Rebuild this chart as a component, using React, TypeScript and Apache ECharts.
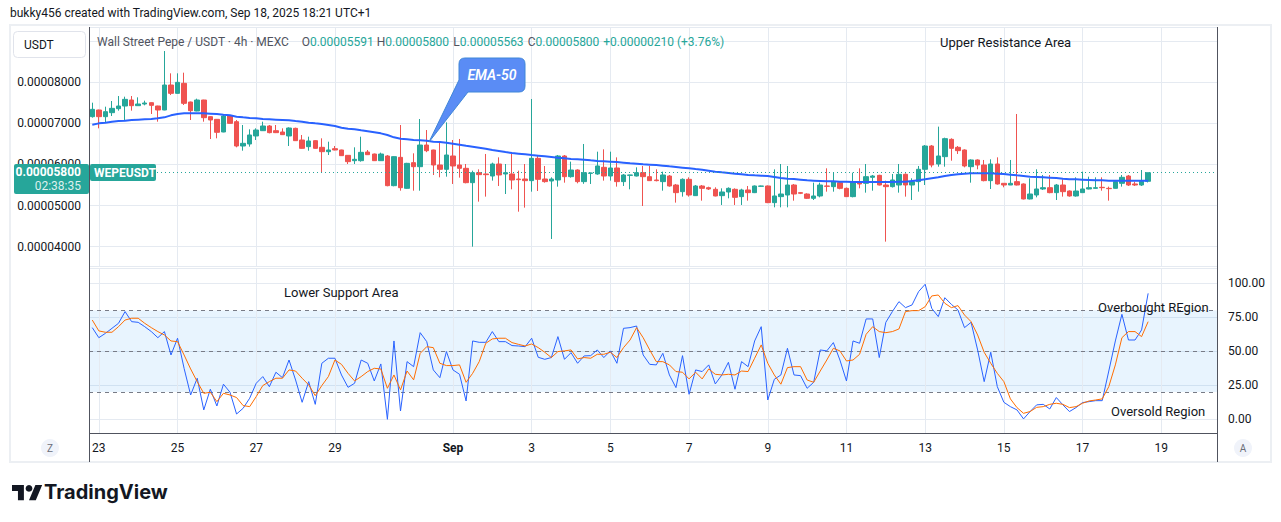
import React, { useEffect, useRef } from 'react';
import * as echarts from 'echarts';

// ---- data (prices in units of 1e-8 USDT) ----
const PRICE_UNIT = 1e-8;
const START_UTC = Date.UTC(2025, 7, 22, 20, 0); // first 4h candle
const BAR_HOURS = 4;
const SLOT_COUNT = 172; // candles + empty right margin

const opens = [
  7164, 7326, 7164, 7261, 7358, 7423, 7569, 7431, 7472, 7504,
  7423, 7326, 7934, 7731, 7975, 7520, 7302, 7569, 7164, 7099,
  6791, 7180, 7042, 6450, 6499, 6694, 6823, 6937, 6823, 6791,
  6694, 6880, 6596, 6434, 6580, 6418, 6312, 6385, 6353, 6223,
  6093, 6093, 6304, 6255, 6093, 6207, 5485, 6174, 5420, 6045,
  5947, 6474, 6353, 5988, 5883, 6207, 5988, 5907, 5558, 5801,
  5769, 5720, 6012, 5769, 5769, 5647, 5647, 5607, 6150, 5647,
  5599, 5623, 6207, 5704, 5866, 5583, 5785, 5769, 5931, 5720,
  5915, 5583, 5736, 5720, 5801, 5704, 5623, 5583, 5720, 5501,
  5339, 5639, 5242, 5477, 5436, 5396, 5242, 5331, 5396, 5218,
  5380, 5315, 5469, 5477, 5072, 5218, 5258, 5501, 5315, 5282,
  5177, 5234, 5477, 5461, 5558, 5420, 5218, 5583, 5542, 5688,
  5736, 5501, 5461, 5501, 5761, 5501, 5583, 5883, 6450, 6012,
  6191, 6612, 6418, 6353, 5947, 6110, 5988, 5607, 6012, 5542,
  5501, 5583, 5526, 5161, 5258, 5404, 5436, 5315, 5501, 5355,
  5234, 5315, 5404, 5420, 5445, 5420, 5420, 5542, 5720, 5526,
  5501, 5591,
];
const closes = [
  7342, 7164, 7285, 7366, 7423, 7585, 7431, 7472, 7496, 7439,
  7326, 7934, 7731, 7999, 7488, 7310, 7569, 7139, 7083, 6783,
  7180, 7001, 6450, 6515, 6718, 6839, 6937, 6775, 6775, 6726,
  6888, 6580, 6393, 6572, 6393, 6312, 6353, 6353, 6215, 6069,
  6126, 6296, 6239, 6093, 6255, 5485, 6191, 5436, 6028, 5947,
  6474, 6336, 5988, 5883, 6231, 5964, 5907, 5558, 5801, 5753,
  5753, 6012, 5745, 5801, 5623, 5631, 5607, 6150, 5639, 5583,
  5647, 6207, 5704, 5866, 5583, 5801, 5793, 5964, 5720, 5915,
  5583, 5745, 5745, 5801, 5704, 5607, 5607, 5745, 5477, 5315,
  5639, 5258, 5477, 5420, 5404, 5234, 5331, 5420, 5201, 5380,
  5315, 5477, 5477, 5072, 5234, 5282, 5501, 5282, 5299, 5177,
  5234, 5501, 5469, 5583, 5420, 5218, 5583, 5526, 5704, 5720,
  5501, 5461, 5623, 5761, 5501, 5583, 5883, 6450, 5988, 6207,
  6629, 6393, 6337, 5964, 6110, 5988, 5607, 6012, 5526, 5501,
  5542, 5501, 5161, 5282, 5404, 5436, 5315, 5501, 5339, 5234,
  5355, 5404, 5436, 5436, 5436, 5412, 5583, 5688, 5501, 5501,
  5590, 5800,
];
const lows = [
  7140, 6880, 7018, 7180, 7310, 7083, 7310, 7431, 7440, 7229,
  7042, 7320, 7690, 7725, 7448, 7083, 7295, 7042, 6620, 6637,
  6785, 6995, 6418, 6336, 6434, 6596, 6815, 6758, 6765, 6720,
  6450, 6575, 6385, 6336, 6385, 5809, 6231, 6345, 6207, 6012,
  6012, 6069, 6231, 6085, 6085, 5470, 5470, 5363, 5410, 5363,
  5363, 6300, 5744, 5688, 5704, 5526, 5680, 5542, 4001, 5096,
  5218, 5607, 5477, 5282, 5396, 4852, 4950, 5339, 5355, 5558,
  4188, 5461, 5558, 5680, 5542, 5530, 5526, 5750, 5607, 5607,
  5461, 5477, 5396, 5710, 4990, 5600, 5590, 5363, 5461, 5072,
  5218, 5218, 5234, 5120, 5380, 5225, 5015, 5177, 5015, 5015,
  5120, 5305, 5460, 5060, 4958, 4958, 4958, 5120, 5280, 5160,
  5136, 5201, 5339, 5339, 5396, 5210, 5201, 5420, 5315, 5363,
  5490, 4123, 5440, 5315, 5218, 5136, 5339, 5501, 5931, 5947,
  5947, 6093, 6256, 5931, 5558, 5883, 5590, 5404, 5510, 5445,
  5500, 5490, 5150, 5150, 5201, 5380, 5300, 5136, 5218, 5218,
  5218, 5315, 5395, 5410, 5363, 5120, 5415, 5461, 5477, 5477,
  5477, 5563,
];
const highs = [
  7504, 7335, 7407, 7545, 7666, 7650, 7666, 7634, 7553, 7510,
  7430, 8761, 8218, 8218, 8234, 7530, 7602, 7575, 7170, 7105,
  7204, 7204, 7083, 6961, 6856, 6880, 7042, 6961, 6961, 6880,
  6904, 6896, 6718, 6677, 6590, 6637, 6555, 6450, 6360, 6230,
  6418, 6677, 6353, 6265, 6288, 6230, 6200, 6961, 6040, 6272,
  7107, 6839, 6360, 6556, 7026, 6596, 6621, 6012, 5850, 5882,
  6256, 6045, 6174, 6012, 6256, 5850, 6012, 7594, 6207, 5964,
  5688, 6231, 6231, 6069, 5882, 6499, 5801, 6312, 6369, 6312,
  6174, 5769, 5750, 5931, 5964, 5964, 5883, 5826, 5745, 5526,
  5663, 5688, 5501, 5501, 5460, 5445, 5420, 5444, 5420, 5410,
  5477, 5490, 5485, 5490, 5882, 6012, 5964, 5526, 5331, 5299,
  5558, 5558, 5907, 5801, 5583, 5440, 5801, 5907, 6012, 5745,
  5750, 5607, 5769, 6012, 5785, 5664, 5964, 6474, 6474, 6921,
  6653, 6637, 6450, 6369, 6126, 6126, 6110, 6126, 6174, 5545,
  6110, 7229, 5540, 5664, 5883, 5745, 5745, 5526, 5639, 5370,
  5688, 5826, 5704, 5688, 5688, 5461, 5590, 5745, 5745, 5583,
  5866, 5800,
];
const ema50 = [
  6969, 7001, 7018, 7042, 7058, 7066, 7083, 7091, 7099, 7107,
  7123, 7147, 7196, 7229, 7245, 7245, 7245, 7245, 7237, 7229,
  7212, 7196, 7164, 7147, 7131, 7123, 7107, 7099, 7091, 7083,
  7075, 7058, 7042, 7018, 7001, 6985, 6961, 6937, 6896, 6872,
  6856, 6831, 6807, 6783, 6758, 6718, 6661, 6628, 6612, 6596,
  6588, 6580, 6555, 6548, 6531, 6507, 6483, 6458, 6434, 6410,
  6385, 6353, 6329, 6304, 6280, 6264, 6248, 6231, 6215, 6199,
  6183, 6166, 6150, 6134, 6126, 6118, 6101, 6085, 6077, 6069,
  6061, 6045, 6028, 6020, 6004, 5996, 5988, 5972, 5955, 5939,
  5923, 5907, 5890, 5874, 5850, 5826, 5809, 5793, 5777, 5761,
  5745, 5736, 5728, 5720, 5696, 5672, 5655, 5647, 5631, 5615,
  5607, 5599, 5591, 5591, 5583, 5583, 5574, 5574, 5574, 5574,
  5574, 5574, 5574, 5583, 5583, 5599, 5615, 5639, 5664, 5688,
  5720, 5745, 5761, 5777, 5785, 5785, 5785, 5785, 5777, 5769,
  5753, 5736, 5720, 5704, 5696, 5688, 5680, 5672, 5655, 5639,
  5639, 5631, 5623, 5615, 5615, 5607, 5607, 5607, 5607, 5607,
  5607, 5607,
];
const stochK = [
  67.4, 60.0, 63.2, 66.9, 70.6, 79.2, 71.8, 71.3, 68.1, 64.5,
  60.0, 64.5, 47.3, 59.6, 37.5, 17.9, 30.2, 6.9, 22.1, 9.8,
  25.8, 19.9, 3.9, 8.1, 15.5, 26.5, 31.4, 24.0, 34.6, 30.6,
  43.6, 28.9, 12.5, 27.7, 11.0, 41.2, 44.9, 44.9, 32.6, 23.5,
  26.5, 43.6, 41.2, 28.2, 40.7, 0.0, 57.6, 6.1, 42.4, 38.7,
  63.7, 57.1, 36.3, 30.6, 49.8, 36.3, 33.1, 13.5, 57.6, 56.6,
  56.6, 64.5, 57.1, 57.1, 54.2, 53.9, 53.4, 59.6, 45.6, 44.1,
  45.4, 60.8, 44.1, 49.0, 41.2, 46.6, 46.8, 51.0, 45.4, 50.3,
  41.2, 66.9, 67.4, 68.6, 47.3, 40.4, 40.0, 48.5, 32.6, 23.3,
  46.8, 18.4, 36.3, 35.1, 40.0, 26.0, 32.6, 41.9, 22.1, 42.4,
  38.7, 57.6, 68.1, 14.2, 29.4, 32.6, 52.2, 32.6, 32.1, 22.8,
  27.2, 51.0, 50.3, 56.4, 43.6, 28.2, 57.6, 55.9, 73.8, 73.8,
  45.4, 71.3, 79.2, 86.5, 82.1, 84.1, 93.9, 99.3, 81.6, 75.5,
  89.4, 84.5, 80.4, 67.4, 71.3, 51.0, 27.7, 49.3, 24.0, 12.5,
  9.3, 6.9, 0.3, 5.7, 10.6, 11.0, 7.6, 16.0, 10.6, 5.7,
  8.6, 12.3, 13.0, 13.7, 13.7, 35.5, 57.6, 77.2, 58.3, 58.3,
  65.7, 92.6,
];
const stochD = [
  73.0, 65.0, 64.0, 64.0, 68.1, 73.0, 74.3, 74.3, 70.6, 67.4,
  64.5, 62.0, 57.6, 57.1, 47.3, 37.0, 27.7, 19.1, 19.9, 13.0,
  19.1, 17.9, 16.0, 10.1, 9.3, 16.7, 24.8, 27.7, 30.2, 30.2,
  36.3, 35.5, 30.2, 25.3, 17.4, 24.8, 31.4, 43.6, 40.4, 33.8,
  28.2, 31.4, 35.1, 37.5, 37.0, 22.8, 32.6, 21.6, 35.5, 29.0,
  48.5, 53.4, 52.7, 41.2, 39.5, 39.5, 40.0, 27.2, 33.8, 42.4,
  55.9, 59.1, 59.6, 59.6, 56.4, 55.1, 53.9, 55.4, 52.7, 49.3,
  45.4, 49.8, 50.3, 51.0, 44.4, 45.4, 44.9, 47.8, 47.8, 49.3,
  45.4, 52.7, 58.3, 67.4, 60.0, 51.0, 42.4, 42.4, 40.0, 35.1,
  34.6, 29.7, 34.6, 29.7, 37.0, 33.1, 32.6, 33.1, 32.6, 35.5,
  35.1, 44.9, 54.7, 41.2, 32.6, 25.8, 38.0, 38.7, 38.7, 28.9,
  27.2, 35.5, 43.6, 52.2, 50.3, 42.9, 43.6, 47.8, 62.5, 68.1,
  64.5, 63.7, 64.5, 66.4, 79.2, 79.9, 79.9, 82.8, 90.7, 91.4,
  85.3, 82.1, 83.6, 76.7, 71.8, 62.0, 49.3, 41.2, 33.8, 27.7,
  15.0, 8.6, 4.4, 5.7, 8.8, 9.3, 11.0, 11.8, 11.0, 8.6,
  9.3, 11.8, 13.5, 14.2, 15.0, 24.0, 40.0, 60.0, 64.5, 64.5,
  60.8, 71.8,
];
const tickKeys = [
  '08-23 00:00', '08-25 00:00', '08-27 00:00', '08-29 00:00', '09-01 00:00',
  '09-03 00:00', '09-05 00:00', '09-07 00:00', '09-09 00:00', '09-11 00:00',
  '09-13 00:00', '09-15 00:00', '09-17 00:00', '09-19 00:00',
];
const tickTexts = ['23', '25', '27', '29', 'Sep', '3', '5', '7', '9', '11', '13', '15', '17', '19'];
const oscLevels = [80, 50, 20];
const oscBand = [20, 80];
const ohlcLetters = ['O', 'H', 'L', 'C'];
const countdown = '02:38:35';

// ---- derived ----
const pad = (n: number) => String(n).padStart(2, '0');
const categories: string[] = [];
for (let i = 0; i < SLOT_COUNT; i++) {
  const d = new Date(START_UTC + i * BAR_HOURS * 3600000);
  categories.push(`${pad(d.getUTCMonth() + 1)}-${pad(d.getUTCDate())} ${pad(d.getUTCHours())}:00`);
}
const last = opens.length - 1;
const fmtP = (v: number) => (v * PRICE_UNIT).toFixed(8);
const ohlcValues = [opens[last], highs[last], lows[last], closes[last]].map(fmtP);
const chg = closes[last] - closes[last - 1];
const chgText = `${chg >= 0 ? '+' : '-'}${fmtP(Math.abs(chg))} (${chg >= 0 ? '+' : '-'}${((Math.abs(chg) / closes[last - 1]) * 100).toFixed(2)}%)`;

const UP = '#26a69a';
const DOWN = '#ef5350';
const GRID = '#e5eaf1';
const TXT = '#131722';
const FONT = 'Roboto, "Noto Sans", sans-serif';

echarts.graphic.registerShape(
  'tvlogo',
  echarts.graphic.extendPath('M14 22H7V11H0V4h14v18zM28 22h-8l7.5-18h8L28 22z', {})
);
echarts.graphic.registerShape(
  'callout',
  echarts.graphic.extendPath(
    'M465 58H519Q525 58 525 64V86Q525 92 519 92H468L429 142L459 80V64Q459 58 465 58Z',
    {}
  )
);

export default function App() {
  const ref = useRef<HTMLDivElement>(null);
  useEffect(() => {
    document.body.style.margin = '0';
    if (!ref.current) return;
    const chart = echarts.init(ref.current, undefined, { renderer: 'svg' });
    const hLines = oscLevels.map((v) => ({
      yAxis: v,
      lineStyle: { color: '#787b86', type: [4, 4], width: 1 },
    }));
    const vLines = tickKeys.map((k) => ({ xAxis: k, lineStyle: { color: GRID, type: 'solid', width: 1 } }));
    const txt = (text: string, x: number, y: number, extra: any = {}) => ({
      type: 'text',
      x,
      y,
      z: 100,
      silent: true,
      style: { text, fill: TXT, fontSize: 13, fontFamily: FONT, verticalAlign: 'middle', align: 'left', ...extra },
    });
    const ohlcX = [301.7, 376.7, 453.3, 527.7];
    const graphic: any[] = [
      { type: 'rect', z: 90, silent: true, shape: { x: 10, y: 25, width: 1261, height: 437 }, style: { fill: 'none', stroke: '#eceff3', lineWidth: 2 } },
      { type: 'line', z: 95, silent: true, shape: { x1: 89.5, y1: 27, x2: 89.5, y2: 462 }, style: { stroke: '#50535e', lineWidth: 1 } },
      { type: 'line', z: 95, silent: true, shape: { x1: 1217.5, y1: 27, x2: 1217.5, y2: 462 }, style: { stroke: '#50535e', lineWidth: 1 } },
      { type: 'line', z: 95, silent: true, shape: { x1: 89, y1: 433.5, x2: 1218, y2: 433.5 }, style: { stroke: '#50535e', lineWidth: 1 } },
      txt('bukky456 created with TradingView.com, Sep 18, 2025 18:21 UTC+1', 10, 13, { fontSize: 12 }),
      { type: 'rect', z: 100, silent: true, shape: { x: 13.5, y: 31.5, width: 72, height: 26, r: 4 }, style: { fill: '#ffffff', stroke: '#e0e3eb', lineWidth: 1 } },
      txt('USDT', 24, 44.5, { fontSize: 12 }),
      txt('Wall Street Pepe / USDT · 4h · MEXC', 97, 42, { fontSize: 12, fill: '#50535e' }),
      ...ohlcLetters.map((l, i) => ({
        type: 'text',
        x: ohlcX[i],
        y: 42,
        z: 100,
        silent: true,
        style: {
          text: `{l|${l}}{v|${ohlcValues[i]}}`,
          verticalAlign: 'middle',
          rich: {
            l: { fill: '#50535e', fontSize: 12, fontFamily: FONT },
            v: { fill: UP, fontSize: 12, fontFamily: FONT },
          },
        },
      })),
      txt(chgText, 603.3, 42, { fontSize: 12, fill: UP }),
      txt('Upper Resistance Area', 940, 42),
      txt('Lower Support Area', 284, 292),
      txt('Overbought REgion', 1098, 307),
      txt('Oversold Region', 1111, 411),
      // price label
      { type: 'rect', z: 100, silent: true, shape: { x: 14, y: 164, width: 75, height: 30, r: 2 }, style: { fill: UP } },
      txt(fmtP(closes[last]), 81, 172, { align: 'right', fill: '#ffffff', fontSize: 12, fontWeight: 'bold' }),
      txt(countdown, 81, 186, { align: 'right', fill: 'rgba(255,255,255,0.85)', fontSize: 12 }),
      { type: 'rect', z: 100, silent: true, shape: { x: 90, y: 164, width: 66, height: 17, r: 2 }, style: { fill: UP } },
      txt('WEPEUSDT', 94, 172.5, { fill: '#ffffff', fontSize: 12, fontWeight: 'bold' }),
      // EMA callout
      { type: 'callout', x: 0, y: 0, z: 100, silent: true, style: { fill: '#5a8cf5', stroke: '#3f86d8', lineWidth: 1 } },
      txt('EMA-50', 492, 75, { align: 'center', fill: '#ffffff', fontSize: 14, fontStyle: 'italic', fontWeight: 600 }),
      // Z / A buttons
      { type: 'circle', z: 100, silent: true, shape: { cx: 50, cy: 448, r: 9 }, style: { fill: '#f0f3fa' } },
      txt('Z', 50, 448, { align: 'center', fontSize: 10, fill: '#6a6d78' }),
      { type: 'circle', z: 100, silent: true, shape: { cx: 1243, cy: 448, r: 9 }, style: { fill: '#f0f3fa' } },
      txt('A', 1243, 448, { align: 'center', fontSize: 10, fill: '#6a6d78' }),
      // logo
      { type: 'tvlogo', x: 12, y: 481.6, scaleX: 0.85, scaleY: 0.85, z: 100, silent: true, style: { fill: TXT } },
      { type: 'circle', z: 100, silent: true, shape: { cx: 29, cy: 488.4, r: 3.4 }, style: { fill: TXT } },
      txt('TradingView', 44, 492, { fontSize: 20, fontWeight: 'bold', fontFamily: 'Inter, Roboto, sans-serif' }),
    ];

    const option: any = {
      animation: false,
      backgroundColor: '#ffffff',
      textStyle: { fontFamily: FONT },
      grid: [
        { left: 89, top: 27, width: 1128, height: 239 },
        { left: 89, top: 268, width: 1128, height: 165 },
      ],
      xAxis: [
        {
          type: 'category', gridIndex: 0, data: categories, boundaryGap: true,
          axisLine: { show: false }, axisTick: { show: false }, axisLabel: { show: false }, splitLine: { show: false },
        },
        {
          type: 'category', gridIndex: 1, data: categories, boundaryGap: true,
          axisLine: { show: false }, axisTick: { show: false }, splitLine: { show: false },
          axisLabel: {
            interval: (_i: number, v: string) => tickKeys.includes(v),
            formatter: (v: string) => {
              const t = tickTexts[tickKeys.indexOf(v)] ?? '';
              return t === 'Sep' ? `{b|${t}}` : t;
            },
            rich: { b: { fontWeight: 'bold', color: TXT, fontSize: 12, fontFamily: FONT } },
            color: TXT, fontSize: 12, margin: 9,
          },
        },
      ],
      yAxis: [
        {
          type: 'value', gridIndex: 0, position: 'left',
          min: 3530.4, max: 9345.5, minInterval: 1000, maxInterval: 1000, splitNumber: 6,
          axisLine: { show: false }, axisTick: { show: false },
          splitLine: { lineStyle: { color: GRID } },
          axisLabel: {
            showMinLabel: false, showMaxLabel: false, margin: 8, color: TXT, fontSize: 12,
            formatter: (v: number) => (v > 8500 || v < 3900 ? '' : fmtP(v)),
          },
        },
        {
          type: 'value', gridIndex: 1, position: 'right',
          min: -10.07, max: 111.25, minInterval: 25, maxInterval: 25, splitNumber: 5,
          axisLine: { show: false }, axisTick: { show: false },
          splitLine: { lineStyle: { color: GRID } },
          axisLabel: {
            showMinLabel: false, showMaxLabel: false, margin: 11, color: TXT, fontSize: 12,
            formatter: (v: number) => v.toFixed(2),
          },
        },
      ],
      series: [
        {
          type: 'candlestick', xAxisIndex: 0, yAxisIndex: 0, barWidth: 5,
          data: opens.map((o, i) => [o, closes[i], lows[i], highs[i]]),
          itemStyle: { color: UP, color0: DOWN, borderColor: UP, borderColor0: DOWN, borderWidth: 1 },
          markLine: {
            silent: true, symbol: 'none', label: { show: false },
            lineStyle: { color: UP, type: [1, 3], width: 1 },
            data: [{ yAxis: closes[last] }],
          },
        },
        {
          type: 'line', xAxisIndex: 0, yAxisIndex: 0, data: ema50, symbol: 'none', z: 3,
          lineStyle: { color: '#2962ff', width: 2 },
          markLine: { silent: true, z: 1, symbol: 'none', label: { show: false }, data: vLines },
        },
        {
          type: 'line', xAxisIndex: 1, yAxisIndex: 1, data: stochK, symbol: 'none', z: 3,
          lineStyle: { color: '#2962ff', width: 1 },
          markArea: {
            silent: true,
            itemStyle: { color: 'rgba(33,150,243,0.1)' },
            data: [[{ yAxis: oscBand[0] }, { yAxis: oscBand[1] }]],
          },
          markLine: { silent: true, z: 1, symbol: 'none', label: { show: false }, data: [...vLines, ...hLines] },
        },
        {
          type: 'line', xAxisIndex: 1, yAxisIndex: 1, data: stochD, symbol: 'none', z: 4,
          lineStyle: { color: '#ff6d00', width: 1 },
        },
      ],
      graphic,
    };
    chart.setOption(option);
    return () => chart.dispose();
  }, []);
  return <div ref={ref} style={{ width: 1281, height: 522 }} />;
}
